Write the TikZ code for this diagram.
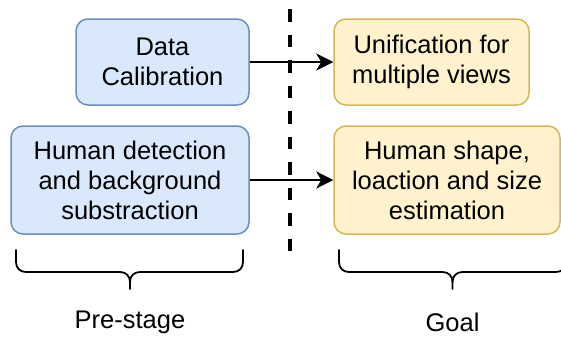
\documentclass[tikz,border=0pt]{standalone}
\usepackage{fontspec}
\setmainfont{Liberation Sans}
\usetikzlibrary{arrows.meta}
\definecolor{bluefill}{HTML}{DAE8FC}
\definecolor{blueline}{HTML}{6C8EBF}
\definecolor{yellowfill}{HTML}{FFF2CC}
\definecolor{yellowline}{HTML}{D6B656}
\begin{document}
\begin{tikzpicture}[x=1pt,y=-1pt,
  box/.style={rounded corners=12pt, line width=1.5pt, align=center,
    inner sep=0pt, font=\fontsize{25.5}{30}\selectfont},
  prebox/.style={box, draw=blueline, fill=bluefill},
  goalbox/.style={box, draw=yellowline, fill=yellowfill},
  flow/.style={line width=1.8pt, -{Stealth[length=17pt,width=17pt,inset=5pt]}},
  divider/.style={line width=4pt, dash pattern=on 12.5pt off 13pt},
  curly/.style={line width=1.8pt, line cap=round},
  caption/.style={font=\fontsize{25.5}{30}\selectfont, inner sep=0pt}]
\useasboundingbox (0,0) rectangle (561,338);

% stage boxes
\node[prebox, minimum width=173pt, minimum height=86pt] (calib) at (162.5,62)
  {Data\\Calibration};
\node[prebox, minimum width=238pt, minimum height=108pt] (detect) at (130,180)
  {Human detection\\and background\\substraction};
\node[goalbox, minimum width=195pt, minimum height=86pt] (unify) at (431.5,62)
  {Unification for\\multiple views};
\node[goalbox, minimum width=226pt, minimum height=108pt] (shape) at (447,180)
  {Human shape,\\loaction and size\\estimation};

% dashed separator
\coordinate (sepTop) at (290,9);
\coordinate (sepBot) at (290,256);
\draw[divider] (sepTop) -- (sepBot);

% flows
\draw[flow] (calib.east) -- (unify.west);
\draw[flow] (detect.east) -- (shape.west);

% left brace
\draw[curly] (16,250) -- (16,262) .. controls (16,268) and (20,272) .. (26,272)
  -- (120,272) .. controls (126,272) and (130,276) .. (130,282) -- (130,289);
\draw[curly] (130,282) .. controls (130,276) and (134,272) .. (140,272)
  -- (233,272) .. controls (239,272) and (243,268) .. (243,262) -- (243,250);

% right brace
\draw[curly] (339,250) -- (339,262) .. controls (339,268) and (343,272) .. (349,272)
  -- (442.5,272) .. controls (448.5,272) and (452.5,276) .. (452.5,282) -- (452.5,289);
\draw[curly] (452.5,282) .. controls (452.5,276) and (456.5,272) .. (462.5,272)
  -- (556,272) .. controls (562,272) and (566,268) .. (566,262) -- (566,250);

% captions
\node[caption] (pre) at (130,322) {Pre-stage};
\node[caption] (goal) at (452.5,322) {Goal};
\end{tikzpicture}
\end{document}
